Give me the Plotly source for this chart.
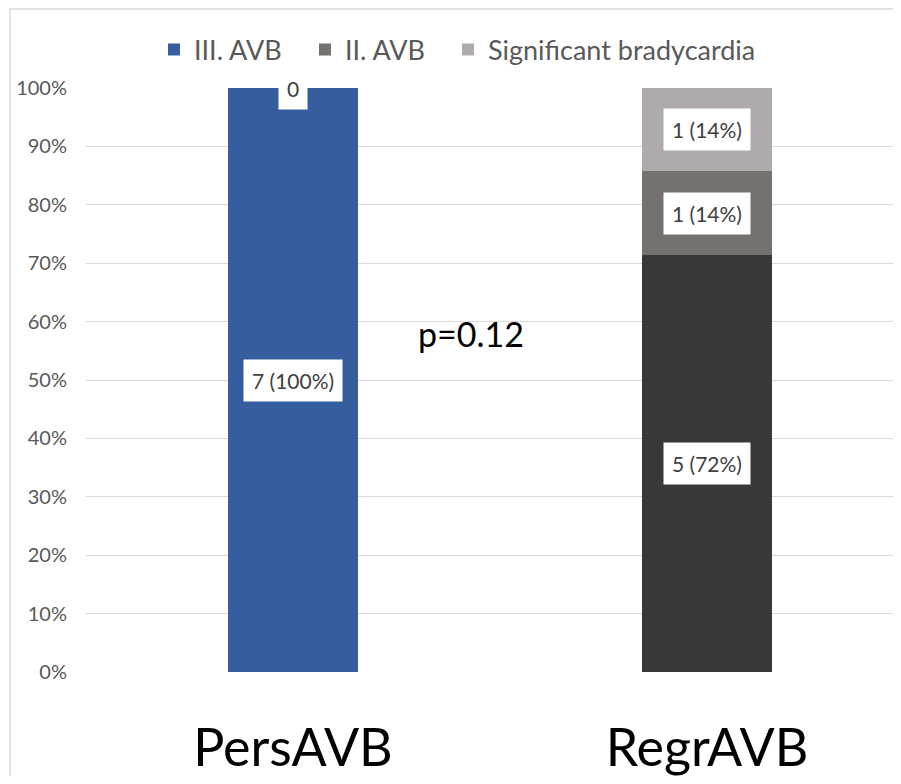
import plotly.graph_objects as go

categories = ["PersAVB", "RegrAVB"]
series_names = ["III. AVB", "II. AVB", "Significant bradycardia"]
iii_avb = [7, 5]
ii_avb = [0, 1]
sig_brady = [0, 1]
iii_labels = ["7 (100%)", "5 (72%)"]
ii_labels = ["0", "1 (14%)"]
sb_labels = ["", "1 (14%)"]
iii_colors = ["#365E9E", "#3A3836"]
ii_color = "#75716E"
sb_color = "#AFABAB"
tick_vals = [0, 10, 20, 30, 40, 50, 60, 70, 80, 90, 100]
tick_text = ["0%", "10%", "20%", "30%", "40%", "50%", "60%", "70%", "80%", "90%", "100%"]
p_text = "p=0.12"

FONT = "Lato"

# page body has an 8px margin; figure is sized so that it fills the 901x784 window
W, H = 885, 768
OFF = 8
plot_left = 86 - OFF
plot_top = 88 - OFF
plot_bottom = 672.5 - OFF
plot_h = plot_bottom - plot_top
plot_w = W - plot_left
unit = 414.0  # px per category

totals = [a + b + c for a, b, c in zip(iii_avb, ii_avb, sig_brady)]
pct = lambda arr: [v / t * 100 for v, t in zip(arr, totals)]
iii_p, ii_p, sb_p = pct(iii_avb), pct(ii_avb), pct(sig_brady)

legend_ids = ["legend", "legend2", "legend3"]
legend_square_x = [169, 320, 463]  # reference pixel positions of legend squares

fig = go.Figure()
fig.add_trace(go.Bar(x=categories, y=iii_p, name=series_names[0], legend=legend_ids[0],
                     marker=dict(color=iii_colors, line=dict(width=0)), width=0.314))
fig.add_trace(go.Bar(x=categories, y=ii_p, name=series_names[1], legend=legend_ids[1],
                     marker=dict(color=ii_color, line=dict(width=0)), width=0.314))
fig.add_trace(go.Bar(x=categories, y=sb_p, name=series_names[2], legend=legend_ids[2],
                     marker=dict(color=sb_color, line=dict(width=0)), width=0.314))

annotations = []
for i, cat in enumerate(categories):
    base = 0
    for vals, labels in ((iii_p, iii_labels), (ii_p, ii_labels), (sb_p, sb_labels)):
        v = vals[i]
        if labels[i]:
            annotations.append(dict(
                x=cat, y=base + v / 2, xref="x", yref="y", text=labels[i],
                showarrow=False, bgcolor="white", borderpad=8,
                font=dict(family=FONT, size=21, color="#404040")))
        base += v

annotations.append(dict(x=0.43, y=58, xref="x", yref="y", text=p_text, showarrow=False,
                        font=dict(family=FONT, size=34, color="black")))

legend_layout = {}
for lid, sx in zip(legend_ids, legend_square_x):
    legend_layout[lid] = dict(
        orientation="h", x=(sx - 15 - 86) / plot_w, xanchor="left",
        y=1 + (88 - 50) / plot_h, yanchor="middle",
        font=dict(family=FONT, size=27, color="#595959"),
        bgcolor="rgba(0,0,0,0)", itemclick=False, itemdoubleclick=False)

fig.update_layout(
    width=W, height=H,
    margin=dict(l=plot_left, r=0, t=plot_top, b=H - plot_bottom, autoexpand=False),
    paper_bgcolor="white", plot_bgcolor="white",
    barmode="stack",
    showlegend=True,
    xaxis=dict(type="category", range=[-0.5, -0.5 + plot_w / unit], showgrid=False,
               showline=False, zeroline=False, ticks="", automargin=False,
               tickfont=dict(family=FONT, size=52, color="black"),
               ticklabelstandoff=41),
    yaxis=dict(range=[0, 100], tickmode="array", tickvals=tick_vals, ticktext=tick_text,
               showgrid=True, gridcolor="#D9D9D9", gridwidth=1, zeroline=False,
               showline=False, automargin=False,
               tickfont=dict(family=FONT, size=20, color="#595959"),
               ticklabelstandoff=18),
    annotations=annotations,
    shapes=[dict(type="rect", xref="paper", yref="paper",
                 x0=(10 - 86) / plot_w, x1=1.2, y0=-0.5, y1=1 + (88 - 9) / plot_h,
                 line=dict(color="#D9D9D9", width=1.5), layer="below")],
    **legend_layout,
)

fig.write_html("out.html")
